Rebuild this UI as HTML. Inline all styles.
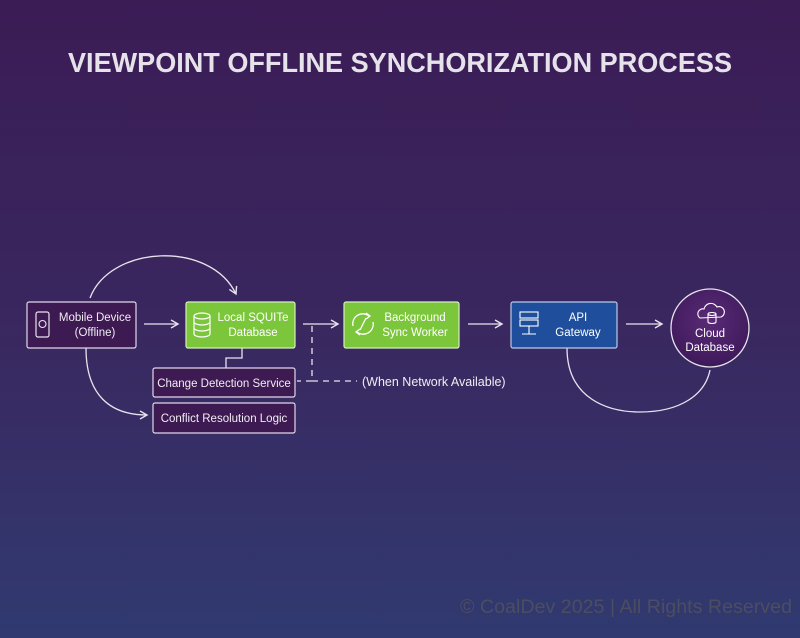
<!DOCTYPE html>
<html><head><meta charset="utf-8"><style>
html,body{margin:0;padding:0;width:800px;height:638px;overflow:hidden}
svg{display:block}
text{font-family:"Liberation Sans",sans-serif}
</style></head><body>
<svg width="800" height="638" viewBox="0 0 800 638" xmlns="http://www.w3.org/2000/svg">
<defs>
<linearGradient id="bg" x1="0" y1="0" x2="0" y2="1">
<stop offset="0" stop-color="#3b1c55"/>
<stop offset="0.5" stop-color="#3a275f"/>
<stop offset="1" stop-color="#303a70"/>
</linearGradient>
<radialGradient id="cg" cx="0.5" cy="0.4" r="0.6">
<stop offset="0" stop-color="#5a2a78"/><stop offset="1" stop-color="#3e1a5a"/>
</radialGradient>
<marker id="ah" markerWidth="10" markerHeight="10" refX="8" refY="5" orient="auto" markerUnits="userSpaceOnUse">
<path d="M1,1 L8,5 L1,9" fill="none" stroke="#e8e4ee" stroke-width="1.4"/>
</marker>
</defs>
<rect width="800" height="638" fill="url(#bg)"/>
<text x="400" y="72" text-anchor="middle" font-size="28" font-weight="bold" fill="#e6e2ea" textLength="664" lengthAdjust="spacingAndGlyphs">VIEWPOINT OFFLINE SYNCHORIZATION PROCESS</text>

<g fill="none" stroke="#e8e4ee" stroke-width="1.3">
<path d="M90,298 C110,245 210,240 236,294" marker-end="url(#ah)"/>
<path d="M86,348 C86,395 110,415 147,415" marker-end="url(#ah)"/>
<path d="M144,324 L178,324" marker-end="url(#ah)"/>
<path d="M303,324 L338,324" marker-end="url(#ah)"/>
<path d="M468,324 L502,324" marker-end="url(#ah)"/>
<path d="M626,324 L662,324" marker-end="url(#ah)"/>
<path d="M242,348 L242,358 L226,358 L226,368"/>
<path d="M567,348 C567,400 610,412 640,412 C680,412 705,395 710,370"/>
<path d="M312,326 L312,381 L297,381 M312,381 L357,381" stroke-dasharray="6,5"/>
</g>

<rect x="27" y="302" width="109" height="46" rx="2" fill="#3e1a52" stroke="#e0d8ea" stroke-width="1.2"/>
<rect x="36" y="312" width="13" height="25" rx="2" fill="none" stroke="#e8e4ee" stroke-width="1.2"/>
<circle cx="42.5" cy="324" r="3.5" fill="none" stroke="#e8e4ee" stroke-width="1.1"/>
<text x="95" y="321" text-anchor="middle" font-size="11.5" fill="#f0ecf4">Mobile Device</text>
<text x="95" y="336" text-anchor="middle" font-size="11.5" fill="#f0ecf4">(Offline)</text>

<rect x="186" y="302" width="109" height="46" rx="2" fill="#7cc63c" stroke="#d6f0b8" stroke-width="1.2"/>
<g fill="none" stroke="#ffffff" stroke-width="1.2">
<ellipse cx="202" cy="316" rx="8" ry="3"/>
<path d="M194,316 V334 A8,3 0 0 0 210,334 V316 M194,322 A8,3 0 0 0 210,322 M194,328 A8,3 0 0 0 210,328"/>
</g>
<text x="253" y="321" text-anchor="middle" font-size="11.5" fill="#ffffff">Local SQUITe</text>
<text x="253" y="336" text-anchor="middle" font-size="11.5" fill="#ffffff">Database</text>

<rect x="153" y="368" width="142" height="29" rx="2" fill="#3e1a52" stroke="#e0d8ea" stroke-width="1.2"/>
<text x="224" y="387" text-anchor="middle" font-size="11.5" fill="#f0ecf4">Change Detection Service</text>
<rect x="153" y="403" width="142" height="30" rx="2" fill="#3e1a52" stroke="#e0d8ea" stroke-width="1.2"/>
<text x="224" y="422" text-anchor="middle" font-size="11.5" fill="#f0ecf4">Conflict Resolution Logic</text>

<text x="362" y="386" font-size="12.5" fill="#f0ecf4">(When Network Available)</text>

<rect x="344" y="302" width="115" height="46" rx="2" fill="#7cc63c" stroke="#d6f0b8" stroke-width="1.2"/>
<g fill="none" stroke="#ffffff" stroke-width="1.3">
<path d="M353,326 A10,10 0 0 1 369,316"/>
<path d="M366,313 L370,316 L366,319"/>
<path d="M373,322 A10,10 0 0 1 357,332"/>
<path d="M360,335 L356,332 L360,329"/>
<path d="M360,330 L366,318"/>
</g>
<text x="415" y="321" text-anchor="middle" font-size="11.5" fill="#ffffff">Background</text>
<text x="415" y="336" text-anchor="middle" font-size="11.5" fill="#ffffff">Sync Worker</text>

<rect x="511" y="302" width="106" height="46" rx="2" fill="#1f4f9c" stroke="#b8cbe8" stroke-width="1.2"/>
<g fill="none" stroke="#ffffff" stroke-width="1.1">
<rect x="520" y="312" width="18" height="6"/>
<rect x="520" y="320" width="18" height="6"/>
<path d="M529,326 V334 M522,334 H536"/>
</g>
<text x="578" y="321" text-anchor="middle" font-size="11.5" fill="#ffffff">API</text>
<text x="578" y="336" text-anchor="middle" font-size="11.5" fill="#ffffff">Gateway</text>

<circle cx="710" cy="328" r="39" fill="url(#cg)" stroke="#e8e4ee" stroke-width="1.3"/>
<g fill="none" stroke="#ffffff" stroke-width="1.1">
<path d="M700,318 A5,5 0 0 1 704,309 A7,7 0 0 1 717,307 A5,5 0 0 1 721,317 Z"/>
<ellipse cx="712" cy="314" rx="4" ry="1.5"/>
<path d="M708,314 V322 A4,1.5 0 0 0 716,322 V314"/>
</g>
<text x="710" y="337" text-anchor="middle" font-size="11.5" fill="#ffffff">Cloud</text>
<text x="710" y="351" text-anchor="middle" font-size="11.5" fill="#ffffff">Database</text>

<text x="792" y="613" text-anchor="end" font-size="19" fill="#4c4d60" textLength="332" lengthAdjust="spacingAndGlyphs">© CoalDev 2025 | All Rights Reserved</text>
</svg>
</body></html>
